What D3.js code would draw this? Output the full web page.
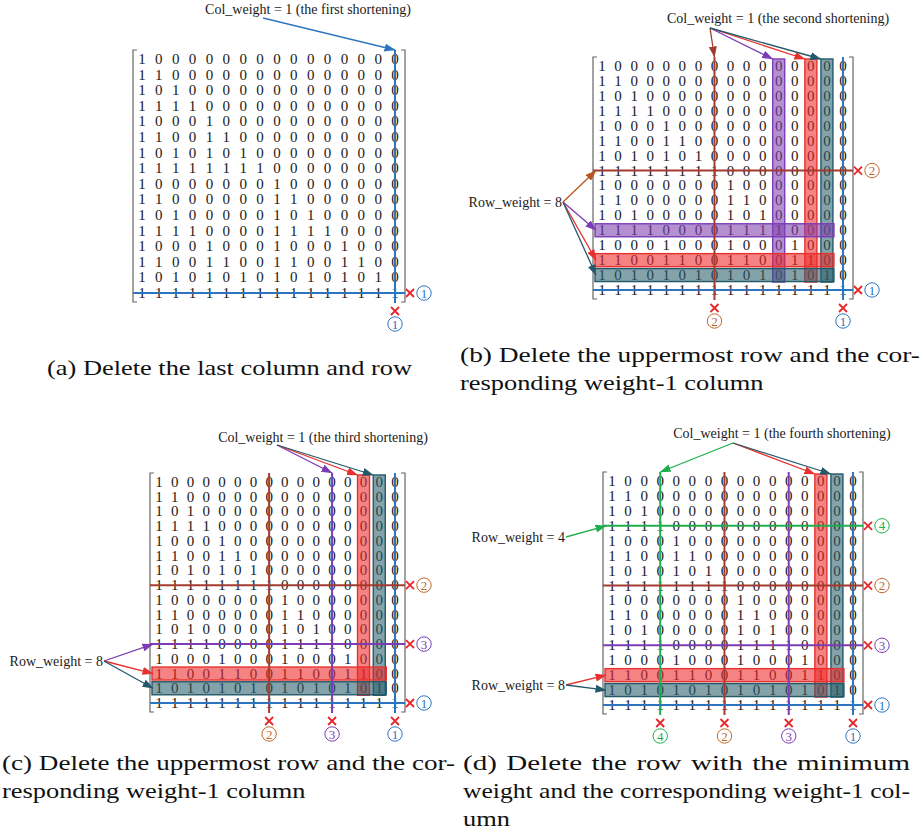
<!DOCTYPE html>
<html>
<head>
<meta charset="utf-8">
<style>
  body { margin: 0; background: #fff; }
  svg { display: block; }
</style>
</head>
<body>
<div id="figure"></div>
<script src="https://d3js.org/d3.v7.min.js"></script>
<script>
// generator matrix, one string per row
var matrixRows = [
  "1000000000000000",
  "1100000000000000",
  "1010000000000000",
  "1111000000000000",
  "1000100000000000",
  "1100110000000000",
  "1010101000000000",
  "1111111100000000",
  "1000000010000000",
  "1100000011000000",
  "1010000010100000",
  "1111000011110000",
  "1000100010001000",
  "1100110011001100",
  "1010101010101010",
  "1111111111111111"
];

// shortening steps: deleted row / column and the step mark
var stepRow = [15, 7, 11, 3];
var stepCol = [15, 7, 11, 3];
var stepMark = ["1", "2", "3", "4"];

// number of steps drawn in each panel
var panelSteps = [1, 2, 3, 4];
var shorteningWord = ["first", "second", "third", "fourth"];

// highlighted rows / columns in each panel
var highlightRows = [[], [11, 13, 14], [13, 14], [13, 14]];
var highlightCols = [[], [11, 13, 14], [13, 14], [13, 14]];

// columns pointed at by "Col_weight = 1"
var colArrows = [[15], [7, 11, 13, 14], [11, 13, 14], [3, 13, 14]];
// "Row_weight = w" labels and the rows they point at
var rowLabelWeights = [[], [8], [8], [4, 8]];
var rowArrows = [[], [[7, 11, 13, 14]], [[11, 13, 14]], [[3], [13, 14]]];

var captionA = ["(a) Delete the last column and row"];
var captionB = ["(b) Delete the uppermost row and the cor-", "responding weight-1 column"];
var captionC = ["(c) Delete the uppermost row and the cor-", "responding weight-1 column"];
var captionD = ["(d) Delete the row with the minimum", "weight and the corresponding weight-1 col-", "umn"];

// ---------------- layout ----------------
var W = 924, H = 837;
var panels = [
  {cx: [142, 395], ry: [59, 293], title: [308, 14], from: [263, 18], rowLabel: []},
  {cx: [602, 843], ry: [66, 290], title: [778, 23], from: [710, 28], rowLabel: [[562, 202]]},
  {cx: [159, 395], ry: [482, 703], title: [323, 442], from: [277, 445], rowLabel: [[103, 661]]},
  {cx: [612, 853], ry: [481, 705], title: [782, 438], from: [733, 443], rowLabel: [[565, 537], [565, 685]]}
];
var captionPos = [
  {lines: captionA, x: 47, y: 375, w: [365]},
  {lines: captionB, x: 460, y: 362, w: [460, null]},
  {lines: captionC, x: 2, y: 770, w: [453, null]},
  {lines: captionD, x: 463, y: 770, w: [447, 447, null]}
];

var lineColor = {15: "#2e75c0", 7: "#a33b2e", 11: "#7b3cb5", 3: "#1fae4c", 13: "#e8302e", 14: "#24596a"};
var markColor = {15: "#2e75c0", 7: "#c0692b", 11: "#7b3cb5", 3: "#1fae4c"};
var fillColor = {11: "#8040b0", 13: "#ee2a2a", 14: "#2a5e6a"};
var rowArrowColor = {7: "#b5561c"};

var svg = d3.select("#figure").append("svg")
    .attr("width", W)
    .attr("height", H)
    .style("font-family", "'Liberation Serif', 'Times New Roman', serif");

// arrow markers, one per colour
var defs = svg.append("defs");
function markerId(c) { return "arrow" + c.replace("#", ""); }
var allColors = d3.union(Object.values(lineColor), Object.values(rowArrowColor));
allColors.forEach(function(c) {
  defs.append("marker")
      .attr("id", markerId(c))
      .attr("markerUnits", "userSpaceOnUse")
      .attr("viewBox", "0 0 11 8")
      .attr("refX", 10.5).attr("refY", 4)
      .attr("markerWidth", 11).attr("markerHeight", 8)
      .attr("orient", "auto")
    .append("path")
      .attr("d", "M0,0 L11,4 L0,8 z")
      .attr("fill", c);
});

function arrow(g, x1, y1, x2, y2, c) {
  g.append("line")
      .attr("x1", x1).attr("y1", y1)
      .attr("x2", x2).attr("y2", y2)
      .attr("stroke", c)
      .attr("stroke-width", 1.3)
      .attr("marker-end", "url(#" + markerId(c) + ")");
}

function cross(g, x, y) {
  var s = 4;
  g.append("path")
      .attr("d", "M" + (x - s) + "," + (y - s) + "L" + (x + s) + "," + (y + s) +
                 "M" + (x - s) + "," + (y + s) + "L" + (x + s) + "," + (y - s))
      .attr("stroke", "#e8262a")
      .attr("stroke-width", 1.8)
      .attr("fill", "none");
}

function circled(g, x, y, label, c) {
  g.append("circle")
      .attr("cx", x).attr("cy", y).attr("r", 7.2)
      .attr("fill", "none")
      .attr("stroke", c)
      .attr("stroke-width", 1);
  g.append("text")
      .attr("x", x).attr("y", y + 4.5)
      .attr("text-anchor", "middle")
      .attr("font-size", 13)
      .attr("fill", c)
      .text(label);
}

panels.forEach(function(P, p) {
  var g = svg.append("g");
  var x = d3.scaleLinear().domain([0, 15]).range(P.cx);
  var y = d3.scaleLinear().domain([0, 15]).range(P.ry);
  var top = P.ry[0] - 9, bottom = P.ry[1] + 9;
  var left = P.cx[0] - 9, right = P.cx[1] + 10;
  var nSteps = panelSteps[p];
  var delRows = stepRow.slice(0, nSteps), delCols = stepCol.slice(0, nSteps);

  // matrix entries
  matrixRows.forEach(function(row, i) {
    g.selectAll(null)
      .data(row.split(""))
      .enter().append("text")
        .attr("x", function(d, j) { return x(j); })
        .attr("y", y(i) + 5)
        .attr("text-anchor", "middle")
        .attr("font-size", 15)
        .attr("fill", "#1a1a1a")
        .text(function(d) { return d; });
  });

  // highlighted columns and rows
  g.selectAll(null)
    .data(highlightCols[p])
    .enter().append("rect")
      .attr("x", function(c) { return x(c) - 6; })
      .attr("y", y(0) - 7)
      .attr("width", 12)
      .attr("height", y(14) - y(0) + 14)
      .attr("fill", function(c) { return fillColor[c]; })
      .attr("fill-opacity", 0.58)
      .attr("stroke", function(c) { return lineColor[c]; })
      .attr("stroke-width", 1.4);
  g.selectAll(null)
    .data(highlightRows[p])
    .enter().append("rect")
      .attr("x", x(0) - 7)
      .attr("y", function(r) { return y(r) - 6.5; })
      .attr("width", x(14) - x(0) + 14)
      .attr("height", 13)
      .attr("fill", function(r) { return fillColor[r]; })
      .attr("fill-opacity", 0.58)
      .attr("stroke", function(r) { return lineColor[r]; })
      .attr("stroke-width", 1.4);

  // brackets
  var bw = 4;
  g.append("path")
      .attr("d", "M" + (left + bw) + "," + top + "H" + left + "V" + bottom + "H" + (left + bw) +
                 "M" + (right - bw) + "," + top + "H" + right + "V" + bottom + "H" + (right - bw))
      .attr("fill", "none")
      .attr("stroke", "#666")
      .attr("stroke-width", 1.2);

  // deletion lines with marks
  delCols.forEach(function(c, k) {
    var col = lineColor[c];
    g.append("line")
        .attr("x1", x(c)).attr("x2", x(c))
        .attr("y1", top).attr("y2", P.ry[1] + 10)
        .attr("stroke", col).attr("stroke-width", 2);
    cross(g, x(c), P.ry[1] + 18);
    circled(g, x(c), P.ry[1] + 31, stepMark[k], markColor[c]);
  });
  delRows.forEach(function(r, k) {
    var col = lineColor[r];
    g.append("line")
        .attr("x1", left).attr("x2", P.cx[1] + 10)
        .attr("y1", y(r)).attr("y2", y(r))
        .attr("stroke", col).attr("stroke-width", 2);
    cross(g, P.cx[1] + 15, y(r));
    circled(g, P.cx[1] + 29, y(r), stepMark[k], markColor[r]);
  });

  // Col_weight label and arrows
  g.append("text")
      .attr("x", P.title[0]).attr("y", P.title[1])
      .attr("text-anchor", "middle")
      .attr("font-size", 14)
      .attr("fill", "#1a1a1a")
      .text("Col_weight = 1 (the " + shorteningWord[p] + " shortening)");
  colArrows[p].forEach(function(c) {
    var deleted = delCols.indexOf(c) >= 0;
    var tx = deleted ? x(c) : x(c) - 6;
    var ty = deleted ? top : y(0) - 7;
    arrow(g, P.from[0], P.from[1], tx, ty, lineColor[c]);
  });

  // Row_weight labels and arrows
  rowLabelWeights[p].forEach(function(w, k) {
    var pos = P.rowLabel[k];
    g.append("text")
        .attr("x", pos[0]).attr("y", pos[1] + 5)
        .attr("text-anchor", "end")
        .attr("font-size", 14)
        .attr("fill", "#1a1a1a")
        .text("Row_weight = " + w);
    rowArrows[p][k].forEach(function(r) {
      var c = rowArrowColor[r] && p === 1 ? rowArrowColor[r] : lineColor[r];
      arrow(g, pos[0] + 1, pos[1], x(0) - 6, y(r), c);
    });
  });
});

// captions: serif text widened to match the LaTeX typeface, justified lines
var capFont = 22;
var probe = svg.append("text").attr("font-size", capFont).attr("visibility", "hidden");
function measure(s) { probe.text(s); return probe.node().getComputedTextLength(); }
var baseStretch = captionPos[0].w[0] / measure(captionA[0]);
var spaceRaw = measure("a a") - measure("aa");

captionPos.forEach(function(C) {
  C.lines.forEach(function(line, li) {
    var words = line.split(" ");
    var raw = words.map(function(w) { return measure(w); });
    var rawTotal = d3.sum(raw);
    var stretch = baseStretch, gap = spaceRaw * baseStretch;
    if (C.w[li] && words.length > 1) {
      // widen glyphs up to a limit, spread the rest over the word gaps
      var s = C.w[li] / (rawTotal + spaceRaw * (words.length - 1));
      stretch = Math.min(Math.max(s, baseStretch * 0.95), baseStretch * 1.1);
      gap = (C.w[li] - rawTotal * stretch) / (words.length - 1);
    }
    var cx = C.x;
    words.forEach(function(w, wi) {
      svg.append("text")
          .attr("x", cx)
          .attr("y", C.y + li * 28)
          .attr("font-size", capFont)
          .attr("fill", "#111")
          .attr("textLength", raw[wi] * stretch)
          .attr("lengthAdjust", "spacingAndGlyphs")
          .text(w);
      cx += raw[wi] * stretch + gap;
    });
  });
});
probe.remove();
</script>
</body>
</html>
